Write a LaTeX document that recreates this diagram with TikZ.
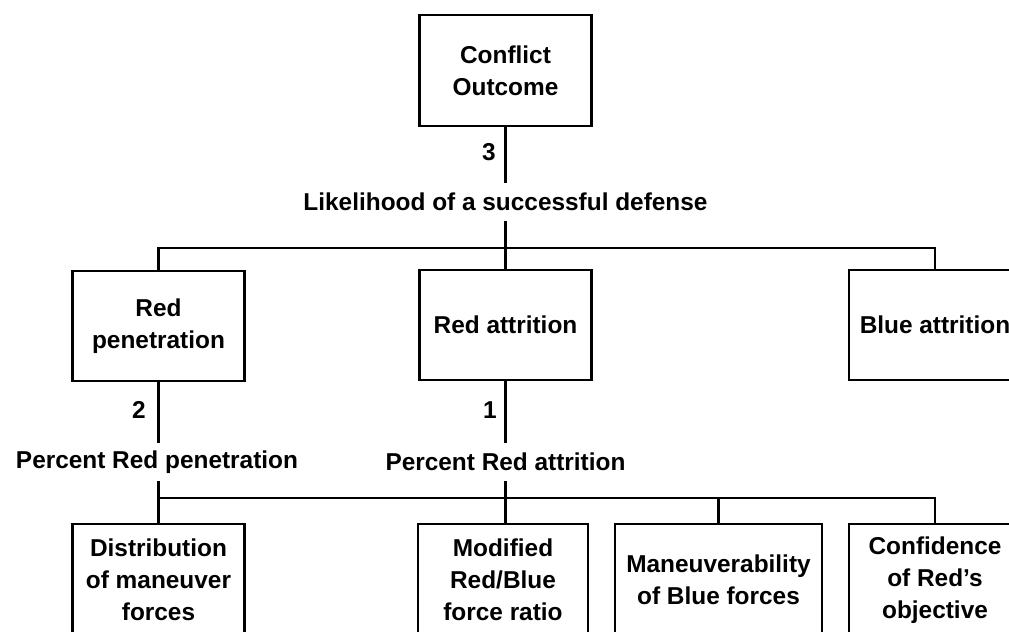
\documentclass[tikz,border=0pt]{standalone}
\usepackage{fontspec}
\setmainfont{Liberation Sans}
\begin{document}
\begin{tikzpicture}[x=0.5pt,y=-0.5pt,
  line width=1.2pt,
  txt/.style={font=\fontsize{12.2}{16}\selectfont\bfseries},
  box/.style={txt, draw, rectangle, inner sep=0pt, minimum width=86pt,
    minimum height=55pt, align=center},
  lbl/.style={txt, inner sep=0pt, minimum height=18pt},
  num/.style={txt, inner sep=0pt}]
\useasboundingbox (0,0) rectangle (1009,632);
\clip (0,0) rectangle (1009,632);

% top of the tree
\node[box, minimum height=55.5pt] (outcome) at (505.5,70.5) {Conflict\\Outcome};
\node[lbl] (likely) at (505.5,202) {Likelihood of a successful defense};
\node[num] (n3) at (489,152) {3};

% second level
\node[box] (redpen) at (158.5,326) {Red\\penetration};
\node[box] (redatt) at (505.5,325) {Red attrition};
\node[box] (blueatt) at (935,325) {Blue attrition};

\node[lbl] (pctpen) at (157,462) {Percent Red penetration};
\node[lbl] (pctatt) at (505.5,462) {Percent Red attrition};
\node[num] (n2) at (139,410) {2};
\node[num] (n1) at (490,410) {1};

% third level
\node[box, minimum height=56pt] (distrib) at (158.5,580) {Distribution\\of maneuver\\forces};
\node[box, minimum height=56pt, minimum width=85pt] (ratio) at (503,580) {Modified\\Red/Blue\\force ratio};
\node[box, minimum height=56pt, minimum width=103.5pt] (maneuv) at (718.5,580) {Maneuverability\\of Blue forces};
\node[box, minimum height=56pt] (confid) at (935,580) {Confidence\\of Red's\\objective};

% connectors, upper bus
\coordinate (b1) at (505.5,248);
\draw (outcome.south) -- (likely.north);
\draw (likely.south) -- (b1);
\draw (redpen.north) |- (b1) -| (blueatt.north);
\draw (b1) -- (redatt.north);

% connectors, lower bus
\coordinate (b2a) at (158.5,498);
\coordinate (b2b) at (505.5,498);
\draw (redpen.south) -- (pctpen.north -| redpen.south);
\draw (redatt.south) -- (pctatt.north);
\draw (pctpen.south -| b2a) -- (b2a) -- (distrib.north);
\draw (pctatt.south) -- (b2b) -- (ratio.north -| b2b);
\draw (b2a) -| (confid.north);
\draw (maneuv.north) -- (maneuv.north |- b2a);
\end{tikzpicture}
\end{document}
